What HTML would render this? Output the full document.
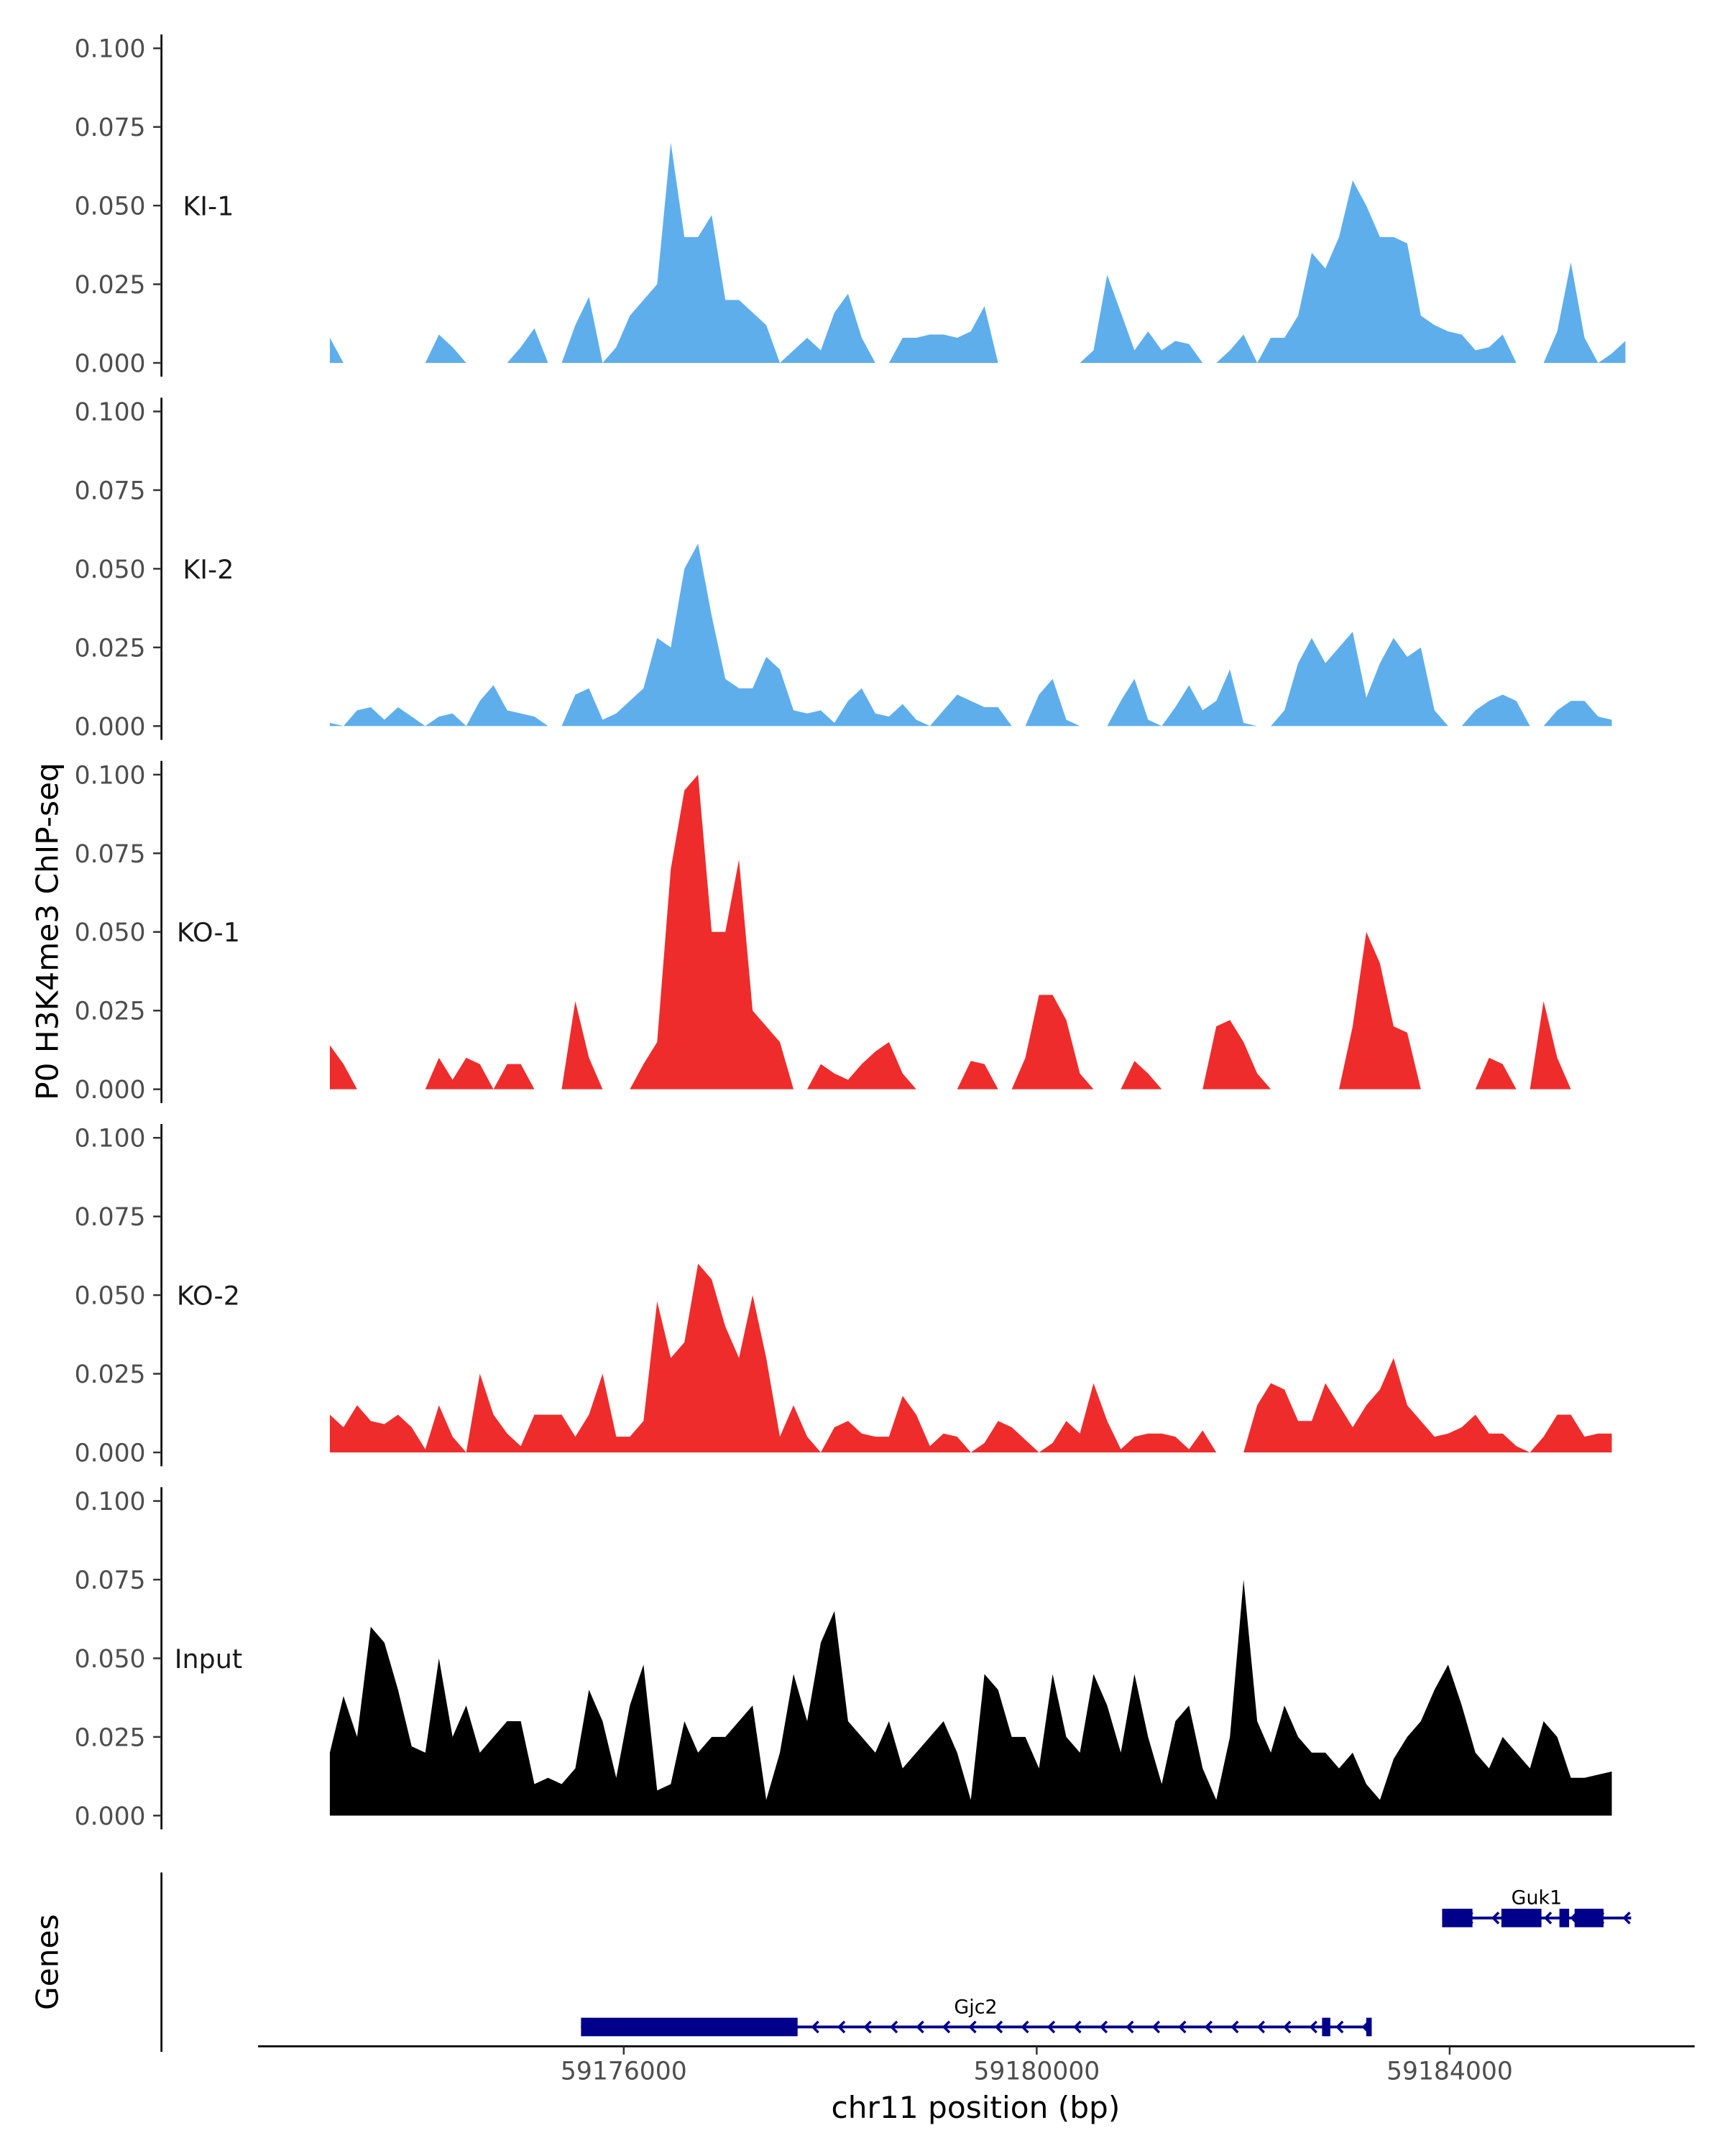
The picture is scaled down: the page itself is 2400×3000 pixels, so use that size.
<!DOCTYPE html>
<html><head><meta charset="utf-8"><style>
html,body{margin:0;padding:0;background:#fff;}
svg{display:block;}
text{font-family:"DejaVu Sans","Liberation Sans",sans-serif;}
</style></head><body>
<svg id="chart" width="2400" height="3000" viewBox="0 0 1250 1562.5" xmlns="http://www.w3.org/2000/svg">
<rect width="1250" height="1562.5" fill="#fff"/>
<g id="tracks"></g>
<g id="genes"></g>
</svg>
<script>
const trackNames = ["KI-1","KI-2","KO-1","KO-2","Input"];
const trackColors = ["#5faeec","#5faeec","#ee2c2c","#ee2c2c","#000000"];
const yTicks = [0, 0.025, 0.05, 0.075, 0.1];
const yTickLabels = ["0.000","0.025","0.050","0.075","0.100"];
const xTicks = [59176000, 59180000, 59184000];
const xTickLabels = ["59176000","59180000","59184000"];
const binStart = 59173153, binSize = 132.1;
const ki1 = [0.008,0,0,0,0,0,0,0,0.009,0.005,0,0,0,0,0.005,0.011,0,0,0.012,0.021,0,0.005,0.015,0.02,0.025,0.07,0.04,0.04,0.047,0.02,0.02,0.016,0.012,0,0.004,0.008,0.004,0.016,0.022,0.008,0,0,0.008,0.008,0.009,0.009,0.008,0.01,0.018,0,0,0,0,0,0,0,0.004,0.028,0.016,0.004,0.01,0.004,0.007,0.006,0,0,0.004,0.009,0,0.008,0.008,0.015,0.035,0.03,0.04,0.058,0.05,0.04,0.04,0.038,0.015,0.012,0.01,0.009,0.004,0.005,0.009,0,0,0,0.01,0.032,0.008,0,0.003,0.007];
const ki2 = [0.001,0,0.005,0.006,0.002,0.006,0.003,0,0.003,0.004,0,0.008,0.013,0.005,0.004,0.003,0,0,0.01,0.012,0.002,0.004,0.008,0.012,0.028,0.025,0.05,0.058,0.035,0.015,0.012,0.012,0.022,0.018,0.005,0.004,0.005,0.001,0.008,0.012,0.004,0.003,0.007,0.002,0,0.005,0.01,0.008,0.006,0.006,0,0,0.01,0.015,0.002,0,0,0,0.008,0.015,0.002,0,0.006,0.013,0.005,0.008,0.018,0.001,0,0,0.005,0.02,0.028,0.02,0.025,0.03,0.009,0.02,0.028,0.022,0.025,0.005,0,0,0.005,0.008,0.01,0.008,0,0,0.005,0.008,0.008,0.003,0.002];
const ko1 = [0.014,0.008,0,0,0,0,0,0,0.01,0.003,0.01,0.008,0,0.008,0.008,0,0,0,0.028,0.01,0,0,0,0.008,0.015,0.07,0.095,0.1,0.05,0.05,0.073,0.025,0.02,0.015,0,0,0.008,0.005,0.003,0.008,0.012,0.015,0.005,0,0,0,0,0.009,0.008,0,0,0.01,0.03,0.03,0.022,0.005,0,0,0,0.009,0.005,0,0,0,0,0.02,0.022,0.015,0.005,0,0,0,0,0,0,0.02,0.05,0.04,0.02,0.018,0,0,0,0,0,0.01,0.008,0,0,0.028,0.01,0,0,0,0,0];
const ko2 = [0.012,0.008,0.015,0.01,0.009,0.012,0.008,0.001,0.015,0.005,0,0.025,0.012,0.006,0.002,0.012,0.012,0.012,0.005,0.012,0.025,0.005,0.005,0.01,0.048,0.03,0.035,0.06,0.055,0.04,0.03,0.05,0.03,0.005,0.015,0.005,0,0.008,0.01,0.006,0.005,0.005,0.018,0.012,0.002,0.006,0.005,0,0.003,0.01,0.008,0.004,0,0.003,0.01,0.006,0.022,0.01,0.001,0.005,0.006,0.006,0.005,0.001,0.007,0,0,0,0.015,0.022,0.02,0.01,0.01,0.022,0.015,0.008,0.015,0.02,0.03,0.015,0.01,0.005,0.006,0.008,0.012,0.006,0.006,0.002,0,0.005,0.012,0.012,0.005,0.006,0.006];
const inputTrack = [0.02,0.038,0.025,0.06,0.055,0.04,0.022,0.02,0.05,0.025,0.035,0.02,0.025,0.03,0.03,0.01,0.012,0.01,0.015,0.04,0.03,0.012,0.035,0.048,0.008,0.01,0.03,0.02,0.025,0.025,0.03,0.035,0.005,0.02,0.045,0.03,0.055,0.065,0.03,0.025,0.02,0.03,0.015,0.02,0.025,0.03,0.02,0.005,0.045,0.04,0.025,0.025,0.015,0.045,0.025,0.02,0.045,0.035,0.02,0.045,0.025,0.01,0.03,0.035,0.015,0.005,0.025,0.075,0.03,0.02,0.035,0.025,0.02,0.02,0.015,0.02,0.01,0.005,0.018,0.025,0.03,0.04,0.048,0.035,0.02,0.015,0.025,0.02,0.015,0.03,0.025,0.012,0.012,0.013,0.014];
const trackValues = [ki1, ki2, ko1, ko2, inputTrack];
const geneNames = ["Guk1","Gjc2"];
const geneStarts = [59183927, 59175586];
const geneEnds = [59185758, 59183232];
const exonStarts = [[59183927,59184501,59185063,59185210],[59175586,59182764,59183192]];
const exonEnds = [[59184221,59184889,59185157,59185491],[59177684,59182844,59183245]];

const NS="http://www.w3.org/2000/svg";
function el(tag, attrs, parent){const e=document.createElementNS(NS,tag);for(const k in attrs)e.setAttribute(k,attrs[k]);parent.appendChild(e);return e;}
function xScale(bp){return 452 + (bp-59176000)*0.07481;}
function yScale(panel, v){return 263 + panel*263.2 - v*2280;}
const tracks=document.getElementById('tracks');
trackNames.forEach((name,p)=>{
  const g=el('g',{},tracks);
  
  
  const ax=el('line',{x1:117,x2:117,y1:yScale(p,0.1)-10,y2:yScale(p,0)+10,stroke:'#000','stroke-width':1.4},g);
  
  
  yTicks.forEach((t,i)=>{
    el('line',{x1:111,x2:117,y1:yScale(p,t),y2:yScale(p,t),stroke:'#333','stroke-width':1.3},g);
    const tx=el('text',{x:105.5,y:yScale(p,t)+6.5,'text-anchor':'end','font-size':18,fill:'#4d4d4d'},g);
    tx.textContent=yTickLabels[i];
    
    
  });
  const lb=el('text',{x:151,y:yScale(p,0.05)+7,'text-anchor':'middle','font-size':19,fill:'#1a1a1a'},g);
  lb.textContent=name;
  
  
  const vals=trackValues[p];
  let pts=[];
  const x0=xScale(binStart), xN=xScale(binStart+(vals.length-1)*binSize);
  pts.push(x0+','+yScale(p,0));
  vals.forEach((v,i)=>{pts.push(xScale(binStart+i*binSize)+','+yScale(p,v));});
  pts.push(xN+','+yScale(p,0));
  const area=el('polygon',{points:pts.join(' '),fill:trackColors[p],stroke:'none'},g);
  
  
});
const yt=el('text',{x:0,y:0,transform:'translate(42,675) rotate(-90)','text-anchor':'middle','font-size':22,fill:'#000'},tracks);
yt.textContent='P0 H3K4me3 ChIP-seq';



const genes=document.getElementById('genes');
const ga=el('line',{x1:117,x2:117,y1:1357,y2:1487,stroke:'#000','stroke-width':1.4},genes);


const gt=el('text',{x:0,y:0,transform:'translate(42,1422) rotate(-90)','text-anchor':'middle','font-size':22,fill:'#000'},genes);
gt.textContent='Genes';


const xa=el('line',{x1:187,x2:1228,y1:1483,y2:1483,stroke:'#000','stroke-width':1.4},genes);


xTicks.forEach((t,i)=>{
  el('line',{x1:xScale(t),x2:xScale(t),y1:1483,y2:1489,stroke:'#333','stroke-width':1.3},genes);
  const tx=el('text',{x:xScale(t),y:1507,'text-anchor':'middle','font-size':18,fill:'#4d4d4d'},genes);
  tx.textContent=xTickLabels[i];
  
  
});
const xt=el('text',{x:707,y:1535,'text-anchor':'middle','font-size':22,fill:'#000'},genes);
xt.textContent='chr11 position (bp)';


const geneY=[1390,1469];
geneNames.forEach((n,gi)=>{
  const g=el('g',{},genes);
  
  
  const y=geneY[gi], xs=xScale(geneStarts[gi]), xe=xScale(geneEnds[gi]);
  el('line',{x1:xs,x2:xe,y1:y,y2:y,stroke:'#00008b','stroke-width':2},g);
  for(let x=xe-5;x>xs+8;x-=19){el('polyline',{points:(x+4)+','+(y-4)+' '+x+','+y+' '+(x+4)+','+(y+4),fill:'none',stroke:'#00008b','stroke-width':1.8},g);}
  exonStarts[gi].forEach((s,k)=>{
    const r=el('rect',{x:xScale(s),y:y-6.7,width:xScale(exonEnds[gi][k])-xScale(s),height:13.4,fill:'#00008b'},g);
    
    
  });
  const tx=el('text',{x:(xs+xe)/2,y:y-10,'text-anchor':'middle','font-size':14,fill:'#000'},g);
  tx.textContent=n;
  
  
});
</script>
</body></html>
